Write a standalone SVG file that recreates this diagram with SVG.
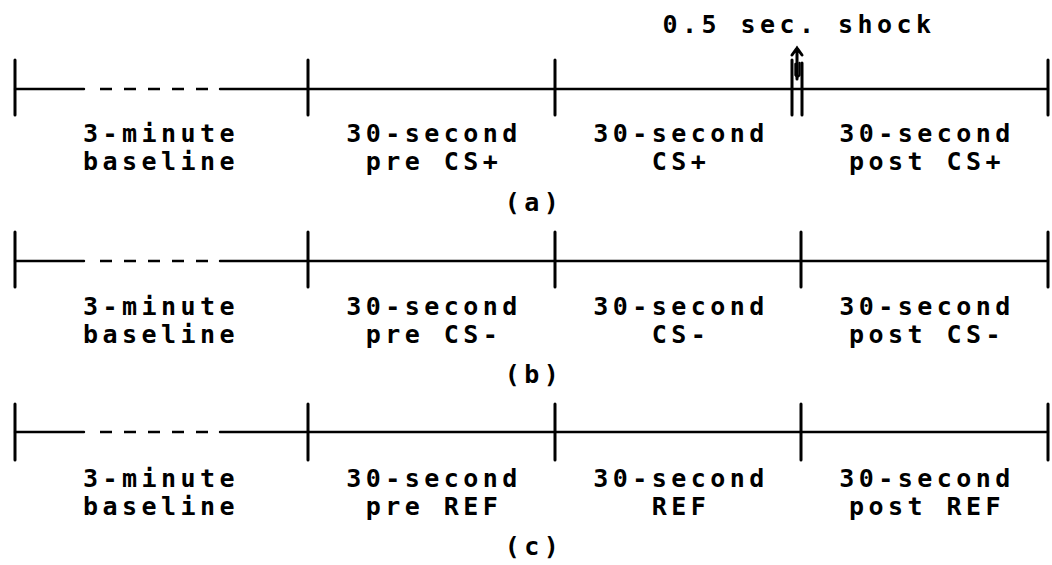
<svg xmlns="http://www.w3.org/2000/svg" width="1052" height="565" viewBox="0 0 1052 565">
  <style>
    .axis { stroke: #000; stroke-width: 2.4; fill: none; stroke-linecap: round; }
    .dash { stroke: #000; stroke-width: 2.4; fill: none; stroke-dasharray: 12 12; }
    .tick { stroke: #000; stroke-width: 3; fill: none; stroke-linecap: round; }
    .lbl { font-family: "DejaVu Sans Mono", "Liberation Mono", monospace; font-weight: bold; font-size: 25px; letter-spacing: 4.45px; fill: #000; text-anchor: middle; }
  </style>
  <rect width="1052" height="565" fill="#fff"/>

  <!-- shock marker above row (a) -->
  <g id="shock">
    <text class="lbl" x="799" y="33">0.5 sec. shock</text>
    <path class="tick" d="M797,79 L797,48 M792,55 L797,48 L802,55"/>
    <path class="axis" stroke-width="2" d="M795.5,64 L795.5,75 Q797.5,78 799.5,75 L799.5,63"/>
  </g>

  <!-- timelines: axis lines and tick marks -->
  <g id="connectors">
    <!-- row (a) -->
    <line class="axis" x1="15" y1="89" x2="84" y2="89"/>
    <line class="dash" x1="100" y1="89" x2="210" y2="89"/>
    <line class="axis" x1="220" y1="89" x2="1048" y2="89"/>
    <line class="tick" x1="15" y1="60" x2="15" y2="115"/>
    <line class="tick" x1="308" y1="60" x2="308" y2="115"/>
    <line class="tick" x1="555" y1="60" x2="555" y2="115"/>
    <line class="tick" x1="792" y1="60" x2="792" y2="115"/>
    <line class="tick" x1="802" y1="63" x2="802" y2="115"/>
    <line class="tick" x1="1048" y1="60" x2="1048" y2="115"/>
    <!-- row (b) -->
    <line class="axis" x1="15" y1="261" x2="84" y2="261"/>
    <line class="dash" x1="100" y1="261" x2="210" y2="261"/>
    <line class="axis" x1="220" y1="261" x2="1048" y2="261"/>
    <line class="tick" x1="15" y1="232" x2="15" y2="287"/>
    <line class="tick" x1="308" y1="232" x2="308" y2="287"/>
    <line class="tick" x1="555" y1="232" x2="555" y2="287"/>
    <line class="tick" x1="801" y1="232" x2="801" y2="287"/>
    <line class="tick" x1="1048" y1="232" x2="1048" y2="287"/>
    <!-- row (c) -->
    <line class="axis" x1="15" y1="432" x2="84" y2="432"/>
    <line class="dash" x1="100" y1="432" x2="210" y2="432"/>
    <line class="axis" x1="220" y1="432" x2="1048" y2="432"/>
    <line class="tick" x1="15" y1="404" x2="15" y2="460"/>
    <line class="tick" x1="308" y1="404" x2="308" y2="460"/>
    <line class="tick" x1="555" y1="404" x2="555" y2="460"/>
    <line class="tick" x1="801" y1="404" x2="801" y2="460"/>
    <line class="tick" x1="1048" y1="404" x2="1048" y2="460"/>
  </g>

  <!-- row (a) segments -->
  <g id="a-baseline"><text class="lbl" x="161" y="142">3-minute</text><text class="lbl" x="161" y="170">baseline</text></g>
  <g id="a-pre"><text class="lbl" x="434" y="142">30-second</text><text class="lbl" x="434" y="170">pre CS+</text></g>
  <g id="a-cs"><text class="lbl" x="681" y="142">30-second</text><text class="lbl" x="681" y="170">CS+</text></g>
  <g id="a-post"><text class="lbl" x="927" y="142">30-second</text><text class="lbl" x="927" y="170">post CS+</text></g>
  <g id="a-caption"><text class="lbl" x="534" y="211">(a)</text></g>

  <!-- row (b) segments -->
  <g id="b-baseline"><text class="lbl" x="161" y="315">3-minute</text><text class="lbl" x="161" y="343">baseline</text></g>
  <g id="b-pre"><text class="lbl" x="434" y="315">30-second</text><text class="lbl" x="434" y="343">pre CS-</text></g>
  <g id="b-cs"><text class="lbl" x="681" y="315">30-second</text><text class="lbl" x="681" y="343">CS-</text></g>
  <g id="b-post"><text class="lbl" x="927" y="315">30-second</text><text class="lbl" x="927" y="343">post CS-</text></g>
  <g id="b-caption"><text class="lbl" x="534" y="383">(b)</text></g>

  <!-- row (c) segments -->
  <g id="c-baseline"><text class="lbl" x="161" y="487">3-minute</text><text class="lbl" x="161" y="515">baseline</text></g>
  <g id="c-pre"><text class="lbl" x="434" y="487">30-second</text><text class="lbl" x="434" y="515">pre REF</text></g>
  <g id="c-cs"><text class="lbl" x="681" y="487">30-second</text><text class="lbl" x="681" y="515">REF</text></g>
  <g id="c-post"><text class="lbl" x="927" y="487">30-second</text><text class="lbl" x="927" y="515">post REF</text></g>
  <g id="c-caption"><text class="lbl" x="534" y="555">(c)</text></g>
</svg>
